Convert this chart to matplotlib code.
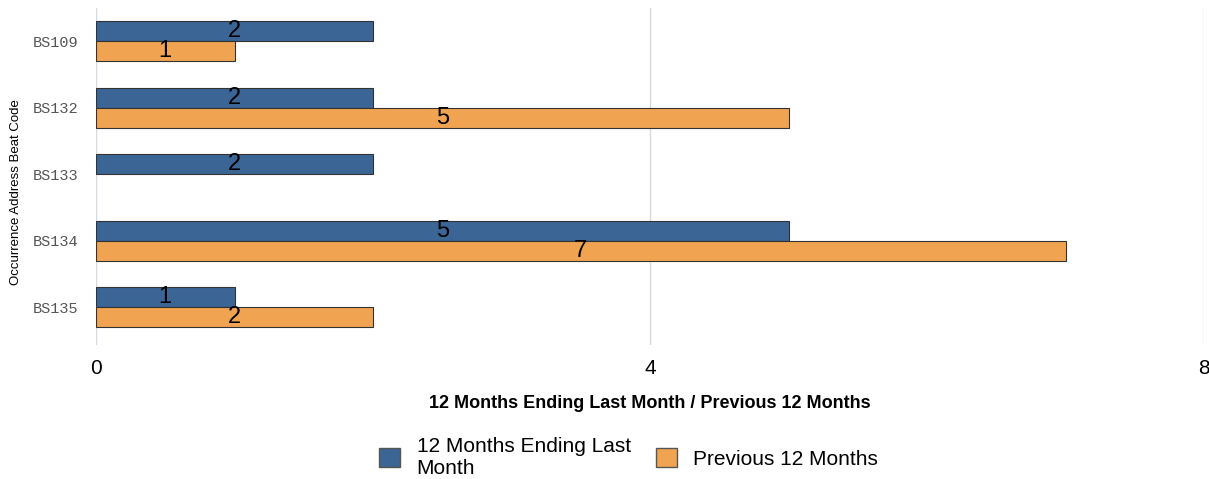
import numpy as np
import matplotlib.pyplot as plt
from matplotlib.patches import Patch

plt.rcParams['font.family'] = ['Liberation Sans', 'DejaVu Sans']

beats = ['BS109', 'BS132', 'BS133', 'BS134', 'BS135']
last_12 = [2, 2, 2, 5, 1]
prev_12 = [1, 5, 0, 7, 2]
series_names = ['12 Months Ending Last\nMonth', 'Previous 12 Months']

blue = '#3a6595'
orange = '#f0a452'

fig = plt.figure(figsize=(12.09, 4.79), dpi=100)
ax = fig.add_axes([0.0794, 0.2797, 0.9165, 0.7036])

y = np.arange(len(beats))
h = 0.3
last_arr = np.array(last_12, dtype=float)
prev_arr = np.array(prev_12, dtype=float)
m1 = last_arr > 0
m2 = prev_arr > 0
ax.barh(y[m1] - h / 2, last_arr[m1], height=h, color=blue, edgecolor='#333333', linewidth=0.8, zorder=3)
ax.barh(y[m2] + h / 2, prev_arr[m2], height=h, color=orange, edgecolor='#333333', linewidth=0.8, zorder=3)

for i in range(len(beats)):
    if last_12[i] > 0:
        ax.text(last_12[i] / 2, y[i] - h / 2, str(last_12[i]), ha='center', va='center',
                fontsize=17, zorder=4)
    if prev_12[i] > 0:
        ax.text(prev_12[i] / 2, y[i] + h / 2, str(prev_12[i]), ha='center', va='center',
                fontsize=17, zorder=4)

ax.set_xlim(0, 8)
ax.set_ylim(4.57, -0.5)
ax.set_xticks([0, 4, 8])
ax.set_xticklabels(['0', '4', '8'], fontsize=15)
ax.set_yticks(y)
ax.set_yticklabels(beats, family='Liberation Mono', fontsize=11, color='#555555')
ax.tick_params(length=0)
ax.tick_params(axis='x', pad=10)
ax.tick_params(axis='y', pad=13)
ax.grid(axis='x', color='#d9d9e3', linewidth=1, zorder=0)
for s in ax.spines.values():
    s.set_visible(False)

ax.set_xlabel('12 Months Ending Last Month / Previous 12 Months', fontsize=13,
              fontweight='bold', labelpad=12)
fig.text(0.013, 0.6, 'Occurrence Address Beat Code', rotation=90, fontsize=9.5,
         ha='center', va='center')

handles = [Patch(facecolor=blue, edgecolor='#555555'),
           Patch(facecolor=orange, edgecolor='#555555')]
fig.legend(handles, series_names, loc='center', bbox_to_anchor=(0.52, 0.045), ncol=2,
           frameon=False, fontsize=15, handlelength=1.0, handleheight=1.0,
           columnspacing=1.2, handletextpad=0.8)

fig.savefig('out.png', dpi=100)
